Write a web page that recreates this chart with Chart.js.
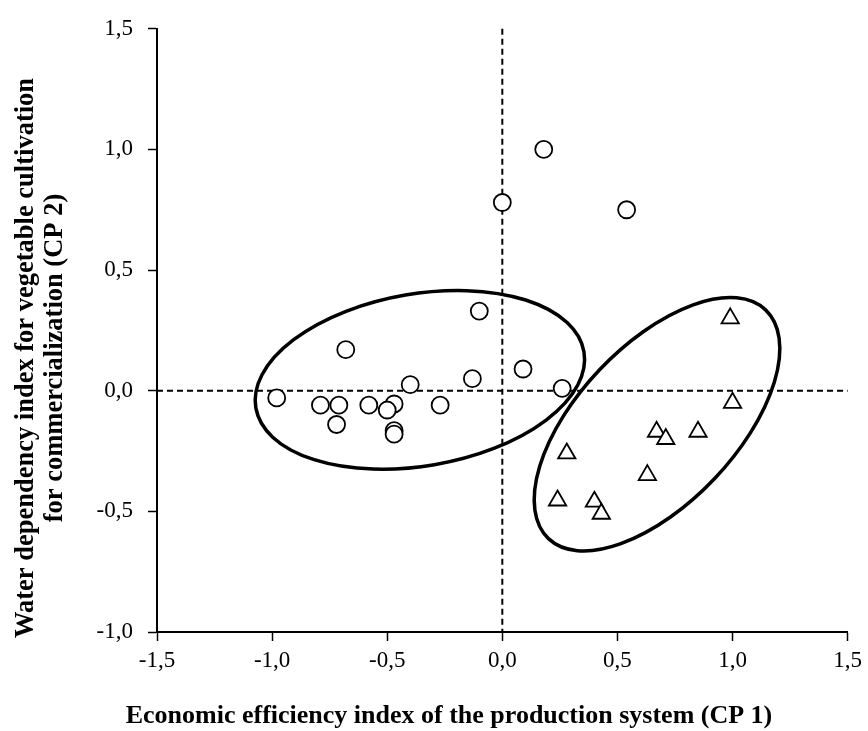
<!DOCTYPE html>
<html>
<head>
<meta charset="utf-8">
<script src="https://cdn.jsdelivr.net/npm/chart.js@4/dist/chart.umd.min.js"></script>
<style>
  html, body { margin: 0; padding: 0; background: #fff; }
  #wrap { width: 868px; height: 731px; }
</style>
</head>
<body>
<div id="wrap"><canvas id="c" width="868" height="731"></canvas></div>
<script>
// Grupo 1 (círculos)
var circleX = [0.18, 0.00, 0.54, -0.10, -0.68, 0.09, -0.13, -0.40, 0.26, -0.98, -0.79, -0.71, -0.58, -0.47, -0.50, -0.27, -0.72, -0.47, -0.47];
var circleY = [1.00, 0.78, 0.75, 0.33, 0.17, 0.09, 0.05, 0.025, 0.01, -0.03, -0.06, -0.06, -0.06, -0.055, -0.08, -0.06, -0.14, -0.165, -0.18];

// Grupo 2 (triángulos)
var triX = [0.99, 1.00, 0.85, 0.67, 0.71, 0.28, 0.63, 0.24, 0.40, 0.43];
var triY = [0.30, -0.05, -0.17, -0.17, -0.20, -0.26, -0.35, -0.455, -0.46, -0.51];

// Ticks
var xTicks = [-1.5, -1.0, -0.5, 0.0, 0.5, 1.0, 1.5];
var yTicks = [-1.0, -0.5, 0.0, 0.5, 1.0, 1.5];

// Elipses de agrupación (centro en unidades de datos, semiejes en unidades de X, giro en grados)
var ellipseCX = [-0.358, 0.672];
var ellipseCY = [0.045, -0.139];
var ellipseA = [0.723, 0.685];
var ellipseB = [0.374, 0.344];
var ellipseAngle = [-9.7, -46.5];

var xTitle = 'Economic efficiency index of the production system (CP 1)';
var yTitle = ['Water dependency index for vegetable cultivation', 'for commercialization (CP 2)'];

function toPoints(xs, ys) {
    return xs.map(function (x, i) { return { x: x, y: ys[i] }; });
}

function fmt(v) {
    return Number(v).toFixed(1).replace('.', ',');
}

var FONT = '"Liberation Serif", "Times New Roman", serif';

// Líneas punteadas en cero y elipses, antes de los puntos
var overlay = {
    id: 'overlay',
    beforeDatasetsDraw: function (chart) {
        var ctx = chart.ctx;
        var xs = chart.scales.x, ys = chart.scales.y;
        var area = chart.chartArea;
        ctx.save();
        ctx.strokeStyle = '#000';
        ctx.lineWidth = 2;
        ctx.setLineDash([6, 4]);
        var x0 = xs.getPixelForValue(0), y0 = ys.getPixelForValue(0);
        ctx.beginPath();
        ctx.moveTo(x0, area.top);
        ctx.lineTo(x0, area.bottom);
        ctx.moveTo(area.left, y0);
        ctx.lineTo(area.right, y0);
        ctx.stroke();
        ctx.setLineDash([]);
        ctx.lineWidth = 3.5;
        var unit = xs.getPixelForValue(1) - xs.getPixelForValue(0);
        for (var i = 0; i < ellipseCX.length; i++) {
            ctx.beginPath();
            ctx.ellipse(xs.getPixelForValue(ellipseCX[i]), ys.getPixelForValue(ellipseCY[i]),
                ellipseA[i] * unit, ellipseB[i] * unit, ellipseAngle[i] * Math.PI / 180, 0, Math.PI * 2);
            ctx.stroke();
        }
        ctx.restore();
    },
    afterDraw: function (chart) {
        // Títulos de ejes (centrados respecto a la figura, como en el original)
        var ctx = chart.ctx;
        ctx.save();
        ctx.fillStyle = '#000';
        ctx.font = 'bold 26px ' + FONT;
        ctx.textAlign = 'center';
        ctx.textBaseline = 'alphabetic';
        ctx.fillText(xTitle, 449, 723);
        ctx.font = 'bold 26.5px ' + FONT;
        ctx.translate(0, 358);
        ctx.rotate(-Math.PI / 2);
        ctx.fillText(yTitle[0], 0, 33);
        ctx.fillText(yTitle[1], 0, 62);
        ctx.restore();
    }
};

new Chart(document.getElementById('c').getContext('2d'), {
    type: 'scatter',
    data: {
        datasets: [{
            label: 'Grupo 1',
            data: toPoints(circleX, circleY),
            pointStyle: 'circle',
            pointRadius: 8.5,
            pointBackgroundColor: '#fff',
            pointBorderColor: '#000',
            pointBorderWidth: 1.8
        }, {
            label: 'Grupo 2',
            data: toPoints(triX, triY),
            pointStyle: 'triangle',
            pointRadius: 10,
            pointBackgroundColor: '#fff',
            pointBorderColor: '#000',
            pointBorderWidth: 1.8
        }]
    },
    options: {
        responsive: false,
        animation: false,
        clip: false,
        layout: { padding: { top: 23, right: 16, left: 0, bottom: 0 } },
        plugins: {
            legend: { display: false },
            tooltip: { enabled: false }
        },
        scales: {
            x: {
                type: 'linear',
                min: -1.5,
                max: 1.5,
                afterBuildTicks: function (s) { s.ticks = xTicks.map(function (v) { return { value: v }; }); },
                afterFit: function (s) { s.height = 99; },
                grid: { drawOnChartArea: false, drawTicks: true, tickLength: 9, tickColor: '#000', tickWidth: 1.5 },
                border: { color: '#000', width: 2 },
                ticks: {
                    color: '#000',
                    padding: 6,
                    maxRotation: 0,
                    font: { family: FONT, size: 23 },
                    callback: function (v) { return fmt(v); }
                }
            },
            y: {
                type: 'linear',
                min: -1.0,
                max: 1.5,
                afterBuildTicks: function (s) { s.ticks = yTicks.map(function (v) { return { value: v }; }); },
                afterFit: function (s) { s.width = 157; },
                grid: { drawOnChartArea: false, drawTicks: true, tickLength: 9, tickColor: '#000', tickWidth: 1.5 },
                border: { color: '#000', width: 2 },
                ticks: {
                    color: '#000',
                    padding: 15,
                    font: { family: FONT, size: 23 },
                    callback: function (v) { return fmt(v); }
                }
            }
        }
    },
    plugins: [overlay]
});
</script>
</body>
</html>
